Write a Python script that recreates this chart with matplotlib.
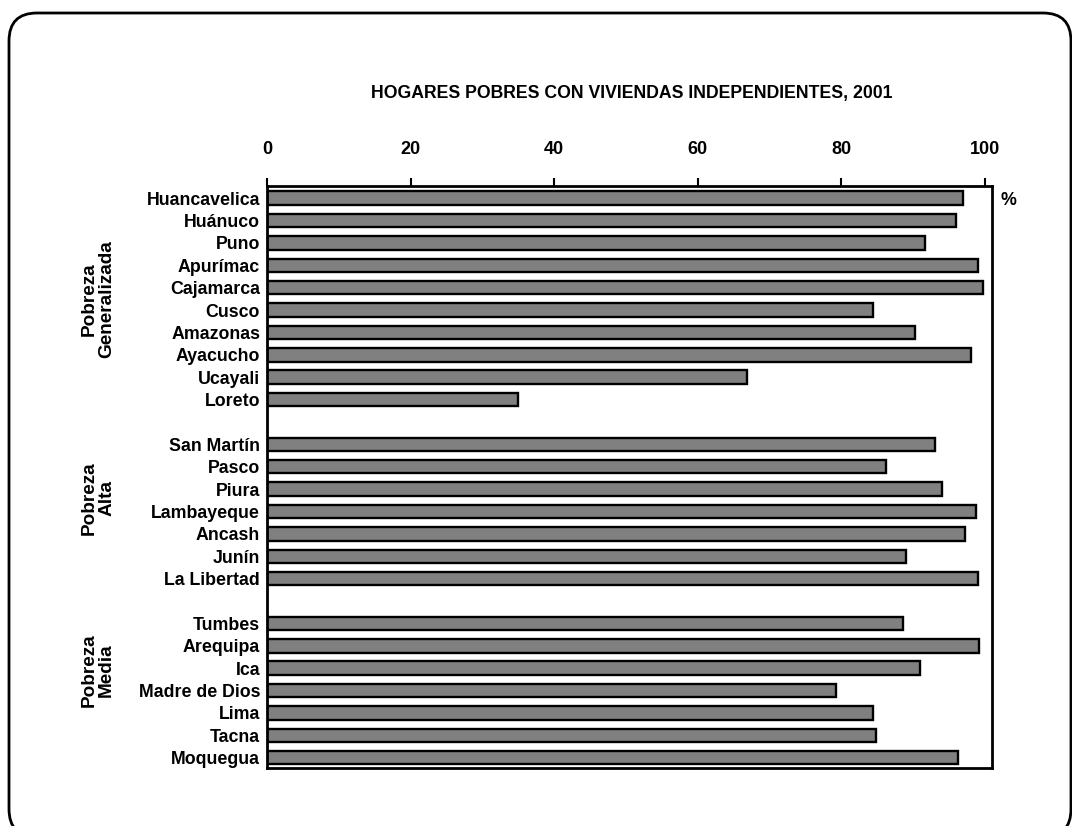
import matplotlib
matplotlib.use("Agg")
import matplotlib.pyplot as plt
from matplotlib.patches import FancyBboxPatch
from matplotlib.transforms import IdentityTransform, blended_transform_factory

plt.rcParams['font.family'] = ['Liberation Sans', 'DejaVu Sans']
plt.rcParams['font.weight'] = 'bold'

title = 'HOGARES POBRES CON VIVIENDAS INDEPENDIENTES, 2001'

generalizada = ['Huancavelica', 'Huánuco', 'Puno', 'Apurímac', 'Cajamarca',
                'Cusco', 'Amazonas', 'Ayacucho', 'Ucayali', 'Loreto']
generalizada_vals = [97.0, 96.0, 91.6, 99.0, 99.7, 84.4, 90.2, 98.1, 66.8, 34.9]

alta = ['San Martín', 'Pasco', 'Piura', 'Lambayeque', 'Ancash', 'Junín',
        'La Libertad']
alta_vals = [93.0, 86.2, 94.0, 98.7, 97.3, 89.0, 99.0]

media = ['Tumbes', 'Arequipa', 'Ica', 'Madre de Dios', 'Lima', 'Tacna',
         'Moquegua']
media_vals = [88.6, 99.2, 90.9, 79.2, 84.4, 84.9, 96.2]

group_names = ['Pobreza\nGeneralizada', 'Pobreza\nAlta', 'Pobreza\nMedia']
x_ticks = [0, 20, 40, 60, 80, 100]


def main():
  fig = plt.figure(figsize=(10.72, 8.26), dpi=100)
  ax = fig.add_axes([0.2491, 0.0702, 0.6763, 0.7046])

  # rounded frame round the whole picture, cut off at right and bottom
  frame = FancyBboxPatch(
    (9, -11), 1062, 824,
    boxstyle='round,pad=0,rounding_size=28',
    transform=IdentityTransform(),
    facecolor='none', edgecolor='black', linewidth=2.0,
  )
  fig.patches.append(frame)

  labels = []
  values = []
  positions = []
  pos = 0
  for names, vals in [(generalizada, generalizada_vals),
                      (alta, alta_vals),
                      (media, media_vals)]:
    for n, v in zip(names, vals):
      labels.append(n)
      values.append(v)
      positions.append(pos)
      pos += 1
    pos += 1

  ax.barh(
    positions, values, height=0.6,
    color='#808080', edgecolor='black', linewidth=1.7,
  )

  ax.set_xlim(0, 101)
  ax.set_ylim(25.46, -0.54)
  ax.set_yticks(positions)
  ax.set_yticklabels(labels, fontsize=12.8)
  ax.tick_params(axis='y', length=0, pad=5)
  ax.xaxis.tick_top()
  ax.set_xticks(x_ticks)
  ax.set_xticklabels([str(t) for t in x_ticks], fontsize=13)
  ax.tick_params(axis='x', length=6, width=1.5, pad=14, direction='out')
  for s in ax.spines.values():
    s.set_linewidth(2.0)

  trans = blended_transform_factory(ax.transAxes, ax.transData)
  for name, y in zip(group_names, [4.5, 13.4, 21.1]):
    ax.text(-0.233, y, name, transform=trans, rotation=90,
            ha='center', va='center', fontsize=13.7, linespacing=1.0)

  ax.text(1.011, 0.1, '%', transform=trans, ha='left', va='center',
          fontsize=12.8)

  fig.text(0.589, 0.887, title, ha='center', va='center', fontsize=12.7)

  fig.savefig('out.png', dpi=100)


if __name__ == "__main__":
  main()
